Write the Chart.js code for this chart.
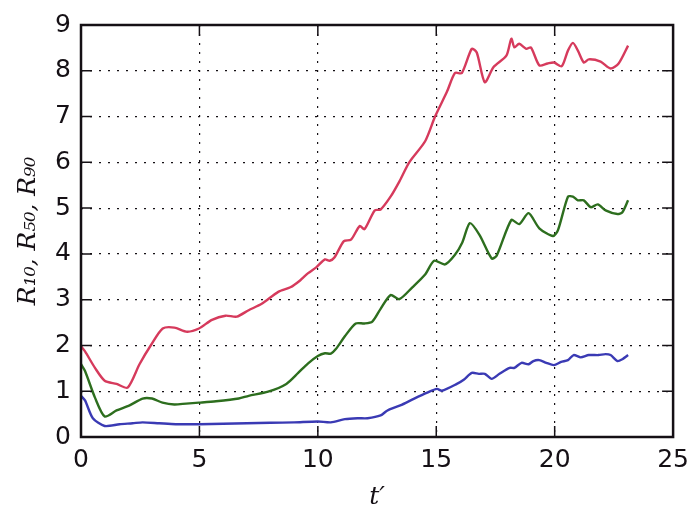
<!DOCTYPE html>
<html>
<head>
<meta charset="utf-8">
<script src="https://cdn.jsdelivr.net/npm/chart.js@4"></script>
<style>
  html, body { margin: 0; padding: 0; background: #fff; }
  #wrap { width: 697px; height: 512px; }
</style>
</head>
<body>
<div id="wrap"><canvas id="chart"></canvas></div>
<script>
// values (t', R)
const tR90 = [0, 0.17, 0.59, 1.0, 1.5, 1.97, 2.47, 2.97, 3.45, 3.94, 4.48, 4.98, 5.53, 6.1, 6.58,
  7.08, 7.63, 8.33, 8.84, 9.25, 9.59, 9.92, 10.3, 10.5, 10.7, 11.1, 11.4, 11.77, 11.97, 12.4, 12.65,
  13.07, 13.44, 13.86, 14.53, 14.95, 15.45, 15.79, 16.08, 16.5, 16.71, 17.05, 17.42, 17.96, 18.17,
  18.3, 18.5, 18.8, 19.0, 19.35, 19.7, 19.97, 20.3, 20.56, 20.77, 20.98, 21.23, 21.44, 21.94, 22.36,
  22.7, 23.1];
const R90 = [1.98, 1.87, 1.51, 1.23, 1.16, 1.08, 1.59, 2.02, 2.37, 2.39, 2.30, 2.37, 2.56, 2.65, 2.63,
  2.77, 2.91, 3.17, 3.27, 3.42, 3.58, 3.70, 3.88, 3.85, 3.92, 4.28, 4.31, 4.61, 4.54, 4.95, 4.97,
  5.25, 5.58, 6.0, 6.46, 7.0, 7.54, 7.95, 7.95, 8.48, 8.40, 7.75, 8.08, 8.33, 8.70,
  8.51, 8.59, 8.48, 8.51, 8.12, 8.16, 8.18, 8.10, 8.44, 8.61, 8.44, 8.18, 8.25, 8.20, 8.05,
  8.16, 8.55];

const tR50 = [0, 0.17, 0.59, 1.0, 1.5, 2.05, 2.6, 3.0, 3.44, 3.94, 4.44, 4.98, 5.7, 6.66, 7.08,
  7.9, 8.67, 9.17, 9.59, 10.0, 10.3, 10.55, 10.76, 11.14, 11.6, 11.97, 12.3, 12.65, 13.07, 13.44,
  13.99, 14.53, 14.91, 15.37, 15.79, 16.1, 16.42, 16.83, 17.34, 17.55, 18.17, 18.5, 18.9, 19.35,
  19.93, 20.14, 20.56, 20.77, 20.98, 21.23, 21.52, 21.82, 22.15, 22.65, 22.86, 23.1];
const R50 = [1.59, 1.44, 0.86, 0.45, 0.58, 0.69, 0.84, 0.84, 0.75, 0.71, 0.73, 0.75, 0.78, 0.84, 0.90,
  0.99, 1.16, 1.40, 1.61, 1.77, 1.83, 1.82, 1.92, 2.20, 2.48, 2.48, 2.52, 2.80, 3.10, 3.01,
  3.27, 3.55, 3.85, 3.77, 3.98, 4.25, 4.67, 4.41, 3.90, 3.96, 4.74, 4.65, 4.89, 4.56,
  4.39, 4.52, 5.25, 5.25, 5.17, 5.17, 5.02, 5.08, 4.95, 4.87, 4.91, 5.17];

const tR10 = [0, 0.17, 0.5, 1.0, 1.63, 2.18, 2.6, 3.3, 4.0, 5.0, 6.0, 7.0, 8.0, 9.0, 10.0, 10.55,
  11.14, 11.68, 12.1, 12.65, 12.94, 13.48, 14.07, 14.62, 15.03, 15.24, 15.87, 16.16, 16.5, 16.8,
  17.05, 17.34, 17.67, 18.1, 18.3, 18.6, 18.9, 19.1, 19.35, 19.65, 19.97, 20.27, 20.56, 20.8,
  21.1, 21.44, 21.85, 22.15, 22.36, 22.65, 22.86, 23.1];
const R10 = [0.90, 0.80, 0.41, 0.24, 0.28, 0.30, 0.32, 0.30, 0.28, 0.28, 0.29, 0.30, 0.31, 0.32, 0.34, 0.32,
  0.39, 0.41, 0.41, 0.47, 0.58, 0.69, 0.84, 0.97, 1.05, 1.01, 1.16, 1.25, 1.40, 1.38,
  1.38, 1.27, 1.38, 1.51, 1.51, 1.62, 1.59, 1.66, 1.68, 1.62, 1.57, 1.64, 1.68, 1.79,
  1.74, 1.79, 1.79, 1.81, 1.79, 1.66, 1.70, 1.79];

const xTicks = [0, 5, 10, 15, 20, 25];
const yTicks = [0, 1, 2, 3, 4, 5, 6, 7, 8, 9];

const toXY = (ts, vs) => ts.map((t, i) => ({ x: t, y: vs[i] }));

const ink = '#151015';
const tickFont = { family: "'DejaVu Sans', sans-serif", size: 25 };
const titleFont = { family: "'DejaVu Serif', 'Liberation Serif', serif", size: 25, style: 'italic' };

function line(data, color) {
  return {
    data: data,
    borderColor: color,
    backgroundColor: 'transparent',
    borderWidth: 2.4,
    pointRadius: 0,
    tension: 0.25,
  };
}

// frame + inward tick marks on all four sides
const framePlugin = {
  id: 'frame',
  afterDraw: (chart) => {
    const ctx = chart.ctx;
    const { left, right, top, bottom } = chart.chartArea;
    const xs = chart.scales.x, ys = chart.scales.y;
    const len = 11;
    ctx.save();
    ctx.strokeStyle = ink;
    ctx.lineWidth = 1.5;
    ctx.beginPath();
    xTicks.forEach(v => {
      const px = xs.getPixelForValue(v);
      ctx.moveTo(px, bottom); ctx.lineTo(px, bottom - len);
      ctx.moveTo(px, top);    ctx.lineTo(px, top + len);
    });
    yTicks.forEach(v => {
      const py = ys.getPixelForValue(v);
      ctx.moveTo(left, py);  ctx.lineTo(left + len, py);
      ctx.moveTo(right, py); ctx.lineTo(right - len, py);
    });
    ctx.stroke();
    ctx.lineWidth = 2.5;
    ctx.strokeRect(left, top, right - left, bottom - top);
    ctx.restore();
  }
};

new Chart(document.getElementById('chart'), {
  type: 'line',
  data: {
    datasets: [
      line(toXY(tR90, R90), '#d63a5c'),
      line(toXY(tR50, R50), '#2d6e1e'),
      line(toXY(tR10, R10), '#3a3ab4'),
    ]
  },
  options: {
    responsive: true,
    maintainAspectRatio: false,
    animation: false,
    layout: { padding: { top: 19, right: 19, left: 0, bottom: 0 } },
    plugins: { legend: { display: false }, tooltip: { enabled: false } },
    scales: {
      x: {
        type: 'linear',
        min: 0, max: 25,
        afterBuildTicks: (s) => { s.ticks = xTicks.map(v => ({ value: v })); },
        afterFit: (s) => { s.height = 75; },
        grid: { color: ink, lineWidth: 1.2, drawTicks: false },
        border: { display: false, dash: [2, 7] },
        ticks: { color: ink, font: tickFont, padding: 8, maxRotation: 0 },
        title: { display: true, text: 't′', color: ink, font: titleFont, padding: { top: 0, bottom: 0 } },
      },
      y: {
        type: 'linear',
        min: 0, max: 9,
        afterBuildTicks: (s) => { s.ticks = yTicks.map(v => ({ value: v })); },
        afterFit: (s) => { s.width = 81; },
        grid: { color: ink, lineWidth: 1.2, drawTicks: false },
        border: { display: false, dash: [2, 7] },
        ticks: { color: ink, font: tickFont, padding: 10 },
        title: { display: true, text: 'R₁₀, R₅₀, R₉₀', color: ink, font: titleFont, padding: { top: 13, bottom: 0 } },
      }
    }
  },
  plugins: [framePlugin]
});
</script>
</body>
</html>
